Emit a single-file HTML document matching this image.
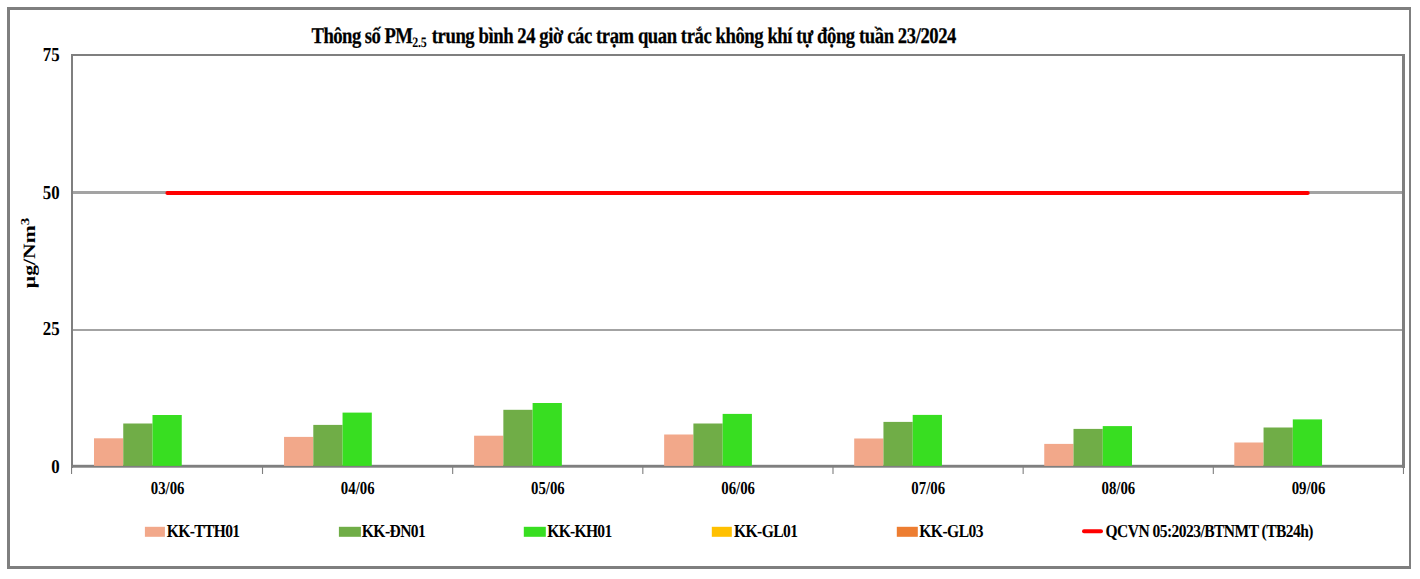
<!DOCTYPE html>
<html lang="vi"><head><meta charset="utf-8"><title>PM2.5</title>
<style>html,body{margin:0;padding:0;background:#fff}svg{display:block}text{font-family:"Liberation Serif","DejaVu Serif",serif;font-weight:bold;fill:#000;text-rendering:geometricPrecision}.tt{stroke:#000;stroke-width:0.25px}</style>
</head><body>
<svg width="1420" height="579" viewBox="0 0 1420 579">
<rect x="0" y="0" width="1420" height="579" fill="#ffffff"/>
<g fill="#7f7f7f">
<rect x="7" y="7" width="1404" height="3"/>
<rect x="7" y="7" width="3" height="562"/>
<rect x="1409" y="7" width="2" height="562"/>
<rect x="7" y="566" width="1404" height="3"/>
</g>
<g fill="#a3a3a3">
<rect x="73" y="191" width="1330" height="3"/>
<rect x="73" y="329" width="1330" height="2"/>
</g>
<g fill="#7f7f7f">
<rect x="71" y="54" width="1334" height="2"/>
<rect x="71" y="54" width="2" height="414"/>
<rect x="1402" y="54" width="3" height="414"/>
</g>
<rect x="71" y="464.8" width="1334" height="2.9" fill="#7f7f7f"/>
<rect x="71.00" y="466" width="1.1" height="8" fill="#7f7f7f"/>
<rect x="261.96" y="466" width="1.1" height="8" fill="#7f7f7f"/>
<rect x="452.12" y="466" width="1.1" height="8" fill="#7f7f7f"/>
<rect x="642.28" y="466" width="1.1" height="8" fill="#7f7f7f"/>
<rect x="832.44" y="466" width="1.1" height="8" fill="#7f7f7f"/>
<rect x="1022.60" y="466" width="1.1" height="8" fill="#7f7f7f"/>
<rect x="1212.76" y="466" width="1.1" height="8" fill="#7f7f7f"/>
<rect x="1402.92" y="466" width="1.1" height="8" fill="#7f7f7f"/>
<rect x="94.00" y="438.3" width="29.25" height="27.6" fill="#f2a88a"/>
<rect x="123.25" y="423.5" width="29.25" height="42.4" fill="#70ad47"/>
<rect x="152.50" y="415.0" width="29.25" height="50.9" fill="#38de21"/>
<rect x="284.05" y="436.9" width="29.25" height="29.0" fill="#f2a88a"/>
<rect x="313.30" y="424.9" width="29.25" height="41.0" fill="#70ad47"/>
<rect x="342.55" y="412.6" width="29.25" height="53.3" fill="#38de21"/>
<rect x="474.10" y="435.7" width="29.25" height="30.2" fill="#f2a88a"/>
<rect x="503.35" y="409.8" width="29.25" height="56.1" fill="#70ad47"/>
<rect x="532.60" y="403.0" width="29.25" height="62.9" fill="#38de21"/>
<rect x="664.15" y="434.5" width="29.25" height="31.4" fill="#f2a88a"/>
<rect x="693.40" y="423.5" width="29.25" height="42.4" fill="#70ad47"/>
<rect x="722.65" y="413.9" width="29.25" height="52.0" fill="#38de21"/>
<rect x="854.20" y="438.5" width="29.25" height="27.4" fill="#f2a88a"/>
<rect x="883.45" y="421.9" width="29.25" height="44.0" fill="#70ad47"/>
<rect x="912.70" y="414.9" width="29.25" height="51.0" fill="#38de21"/>
<rect x="1044.25" y="443.9" width="29.25" height="22.0" fill="#f2a88a"/>
<rect x="1073.50" y="428.9" width="29.25" height="37.0" fill="#70ad47"/>
<rect x="1102.75" y="426.1" width="29.25" height="39.8" fill="#38de21"/>
<rect x="1234.30" y="442.5" width="29.25" height="23.4" fill="#f2a88a"/>
<rect x="1263.55" y="427.5" width="29.25" height="38.4" fill="#70ad47"/>
<rect x="1292.80" y="419.4" width="29.25" height="46.5" fill="#38de21"/>
<line x1="167.4" y1="193" x2="1307.7" y2="193" stroke="#ff0000" stroke-width="4" stroke-linecap="round"/>
<text transform="translate(59.6,61) scale(0.855,1)" font-size="19.7" text-anchor="end">75</text>
<text transform="translate(59.6,199.1) scale(0.855,1)" font-size="19.7" text-anchor="end">50</text>
<text transform="translate(59.6,335.2) scale(0.855,1)" font-size="19.7" text-anchor="end">25</text>
<text transform="translate(59.6,473.1) scale(0.855,1)" font-size="19.7" text-anchor="end">0</text>
<text transform="translate(167.6,494.2) scale(0.81,1)" font-size="18.3" text-anchor="middle">03/06</text>
<text transform="translate(357.7,494.2) scale(0.81,1)" font-size="18.3" text-anchor="middle">04/06</text>
<text transform="translate(547.9,494.2) scale(0.81,1)" font-size="18.3" text-anchor="middle">05/06</text>
<text transform="translate(738.1,494.2) scale(0.81,1)" font-size="18.3" text-anchor="middle">06/06</text>
<text transform="translate(928.2,494.2) scale(0.81,1)" font-size="18.3" text-anchor="middle">07/06</text>
<text transform="translate(1118.4,494.2) scale(0.81,1)" font-size="18.3" text-anchor="middle">08/06</text>
<text transform="translate(1308.5,494.2) scale(0.81,1)" font-size="18.3" text-anchor="middle">09/06</text>
<text transform="translate(311.6,42.8) scale(0.833,1)" font-size="22.4" text-anchor="start" class="tt" letter-spacing="-0.660">Thông số PM</text>
<text transform="translate(412.2,46.8) scale(0.833,1)" font-size="14.4" text-anchor="start" letter-spacing="-0.197">2.5</text>
<text transform="translate(431.8,42.8) scale(0.833,1)" font-size="22.4" text-anchor="start" class="tt" letter-spacing="-0.510">trung bình 24 giờ các trạm quan trắc không khí tự động tuần 23/2024</text>
<text transform="translate(35.2,288.2) scale(1,1.25) rotate(-90)" font-size="17.3">µg/Nm<tspan font-size="12" dy="-6.2">3</tspan></text>
<rect x="144.9" y="526.8" width="20" height="10" fill="#f2a88a"/>
<text transform="translate(166.8,537.0) scale(0.85,1)" font-size="18.3" text-anchor="start" letter-spacing="-0.752">KK-TTH01</text>
<rect x="338.9" y="526.8" width="22" height="10" fill="#70ad47"/>
<text transform="translate(361.8,537.0) scale(0.85,1)" font-size="18.3" text-anchor="start" letter-spacing="-0.645">KK-ĐN01</text>
<rect x="523.8" y="526.8" width="22" height="10" fill="#38de21"/>
<text transform="translate(547.3,537.0) scale(0.85,1)" font-size="18.3" text-anchor="start" letter-spacing="-0.818">KK-KH01</text>
<rect x="711.8" y="526.8" width="20" height="10" fill="#ffc000"/>
<text transform="translate(734.0,537.0) scale(0.85,1)" font-size="18.3" text-anchor="start" letter-spacing="-0.646">KK-GL01</text>
<rect x="896.8" y="526.8" width="21" height="10" fill="#ed7d31"/>
<text transform="translate(919.3,537.0) scale(0.85,1)" font-size="18.3" text-anchor="start" letter-spacing="-0.612">KK-GL03</text>
<line x1="1084" y1="531.2" x2="1101" y2="531.2" stroke="#ff0000" stroke-width="4" stroke-linecap="round"/>
<text transform="translate(1105.5,537.0) scale(0.85,1)" font-size="18.3" text-anchor="start" letter-spacing="-0.638">QCVN 05:2023/BTNMT (TB24h)</text>
</svg></body></html>
